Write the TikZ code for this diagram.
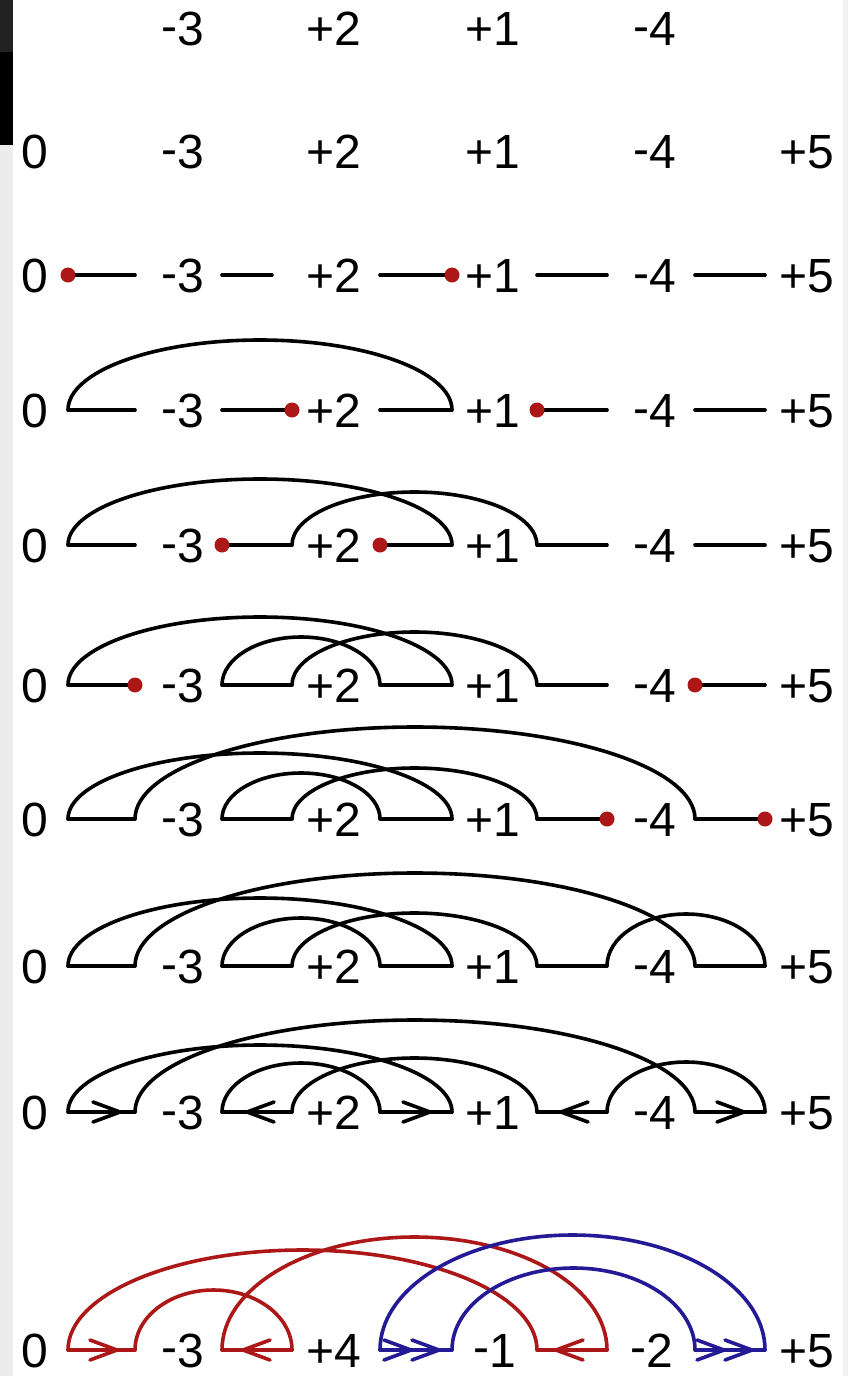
\documentclass[tikz,border=0pt]{standalone}
\usepackage{fontspec}
\setmainfont{Liberation Sans}
\definecolor{dred}{RGB}{172,24,24}
\definecolor{dblue}{RGB}{36,26,150}
\definecolor{stripgray}{RGB}{236,236,236}
\newcommand\mns{\raisebox{0.07em}{-}}
\tikzset{
  lbl/.style={anchor=base, inner sep=0pt, font=\fontsize{48}{58}\selectfont},
  edge/.style={line width=3.6pt, line cap=round, line join=round},
  rdot/.style={circle, fill=dred, draw=none, inner sep=0pt, minimum size=15pt},
}
\newcommand\bparc[4][]{\draw[edge,#1] (#2) arc[start angle=180,end angle=0,x radius=#3pt,y radius=#4pt];}
\newcommand\chevr[2][]{\draw[edge,line join=miter,#1] (#2) ++(-27,-10) -- (#2) -- ++(-27,10);}
\newcommand\chevl[2][]{\draw[edge,line join=miter,#1] (#2) ++(27,-10) -- (#2) -- ++(27,10);}
\begin{document}
\begin{tikzpicture}[x=1pt,y=-1pt]
\useasboundingbox (0,0) rectangle (848,1376);
\fill[white] (0,0) rectangle (848,1376);
\fill[stripgray] (0,0) rectangle (13,1376);
\fill[black!87] (0,0) rectangle (13,52);
\fill[black] (0,52) rectangle (13,145);
\fill[black!5] (843,0) rectangle (848,1376);

% gap coordinates per row
\foreach \r/\y in {3/275,4/410,5/545,6/685,7/819,8/966,9/1112,10/1350} {
  \foreach \i/\l/\rr in {0/68/135,1/222/292,2/380/452,3/537/607,4/695/765} {
    \coordinate (L\i-\r) at (\l,\y);
    \coordinate (R\i-\r) at (\rr,\y);
  }
}

% row 1
\node[lbl] (n1b) at (183,45.5) {\mns3};
\node[lbl] (n1c) at (334,45.5) {+2};
\node[lbl] (n1d) at (493,45.5) {+1};
\node[lbl] (n1e) at (655,45.5) {\mns4};

% rows 2-9 labels
\foreach \r/\y in {2/151,3/275,4/410,5/545,6/685,7/819,8/966,9/1112} {
  \node[lbl] (n\r a) at (35,\y+17.5) {0};
  \node[lbl] (n\r b) at (183,\y+17.5) {\mns3};
  \node[lbl] (n\r c) at (334,\y+17.5) {+2};
  \node[lbl] (n\r d) at (493,\y+17.5) {+1};
  \node[lbl] (n\r e) at (655,\y+17.5) {\mns4};
  \node[lbl] (n\r f) at (807,\y+17.5) {+5};
}
% row 10 labels
\node[lbl] (n10a) at (35,1367) {0};
\node[lbl] (n10b) at (183,1367) {\mns3};
\node[lbl] (n10c) at (334,1367) {+4};
\node[lbl] (n10d) at (495,1367) {\mns1};
\node[lbl] (n10e) at (652,1367) {\mns2};
\node[lbl] (n10f) at (807,1367) {+5};

% row 3
\coordinate (E1-3) at (272,275);
\draw[edge] (L0-3) -- (R0-3);
\draw[edge] (L1-3) -- (E1-3);
\draw[edge] (L2-3) -- (R2-3);
\draw[edge] (L3-3) -- (R3-3);
\draw[edge] (L4-3) -- (R4-3);
\node[rdot] (d3a) at (L0-3) {};
\node[rdot] (d3b) at (R2-3) {};

% row 4
\foreach \i in {0,...,4} {\draw[edge] (L\i-4) -- (R\i-4);}
\bparc{L0-4}{192}{70}
\node[rdot] (d4a) at (R1-4) {};
\node[rdot] (d4b) at (L3-4) {};

% row 5
\foreach \i in {0,...,4} {\draw[edge] (L\i-5) -- (R\i-5);}
\bparc{L0-5}{192}{66}
\bparc{R1-5}{122.5}{53}
\node[rdot] (d5a) at (L1-5) {};
\node[rdot] (d5b) at (L2-5) {};

% row 6
\foreach \i in {0,...,4} {\draw[edge] (L\i-6) -- (R\i-6);}
\bparc{L0-6}{192}{68}
\bparc{R1-6}{122.5}{53}
\bparc{L1-6}{79}{48}
\node[rdot] (d6a) at (R0-6) {};
\node[rdot] (d6b) at (L4-6) {};

% row 7
\foreach \i in {0,...,4} {\draw[edge] (L\i-7) -- (R\i-7);}
\bparc{L0-7}{192}{66}
\bparc{R1-7}{122.5}{51}
\bparc{L1-7}{79}{46}
\bparc{R0-7}{280}{92}
\node[rdot] (d7a) at (R3-7) {};
\node[rdot] (d7b) at (R4-7) {};

% row 8
\foreach \i in {0,...,4} {\draw[edge] (L\i-8) -- (R\i-8);}
\bparc{L0-8}{192}{68}
\bparc{R1-8}{122.5}{53}
\bparc{L1-8}{79}{48}
\bparc{R0-8}{280}{93}
\bparc{R3-8}{79}{52}

% row 9
\foreach \i in {0,...,4} {\draw[edge] (L\i-9) -- (R\i-9);}
\bparc{L0-9}{192}{67}
\bparc{R1-9}{122.5}{54}
\bparc{L1-9}{79}{49}
\bparc{R0-9}{280}{92}
\bparc{R3-9}{79}{50}
\coordinate (a0-9) at (120,1112);
\coordinate (a1-9) at (247,1112);
\coordinate (a2-9) at (430,1112);
\coordinate (a3-9) at (561,1112);
\coordinate (a4-9) at (744,1112);
\chevr{a0-9}
\chevl{a1-9}
\chevr{a2-9}
\chevl{a3-9}
\chevr{a4-9}

% row 10
\draw[edge,dred] (L0-10) -- (R0-10);
\draw[edge,dred] (L1-10) -- (R1-10);
\draw[edge,dblue] (L2-10) -- (R2-10);
\draw[edge,dred] (L3-10) -- (R3-10);
\draw[edge,dblue] (L4-10) -- (R4-10);
\bparc[dred]{L0-10}{234.5}{100}
\bparc[dred]{R0-10}{78.5}{60}
\bparc[dred]{L1-10}{192.5}{113}
\bparc[dblue]{L2-10}{192.5}{115}
\bparc[dblue]{R2-10}{121.5}{82}
\coordinate (a0-10) at (117,1350);
\coordinate (a1-10) at (243,1350);
\coordinate (a2-10) at (411,1350);
\coordinate (b2-10) at (439,1350);
\coordinate (a3-10) at (556,1350);
\coordinate (a4-10) at (724,1350);
\coordinate (b4-10) at (752,1350);
\chevr[dred]{a0-10}
\chevl[dred]{a1-10}
\chevr[dblue]{a2-10}
\chevr[dblue]{b2-10}
\chevl[dred]{a3-10}
\chevr[dblue]{a4-10}
\chevr[dblue]{b4-10}
\end{tikzpicture}
\end{document}
